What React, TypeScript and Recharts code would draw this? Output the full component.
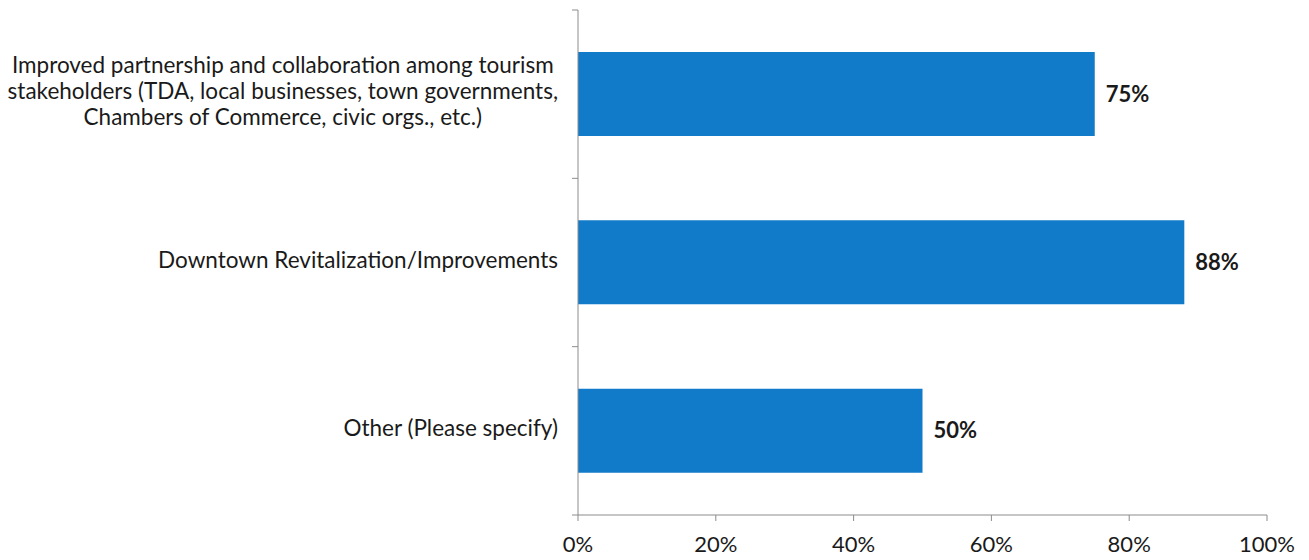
import { Bar, BarChart, LabelList, XAxis, YAxis } from 'recharts';

const categories = [
  'Improved partnership and collaboration among tourism\nstakeholders (TDA, local businesses, town governments,\nChambers of Commerce, civic orgs., etc.)',
  'Downtown Revitalization/Improvements',
  'Other (Please specify)',
];
const shares = [75, 88, 50];
const xTicks = [0, 20, 40, 60, 80, 100];

const data = categories.map((name, i) => ({ name, share: shares[i] }));

const FONT = 'Lato, "Open Sans", sans-serif';
const AXIS_COLOR = '#8c8c8c';
const TEXT_COLOR = '#1a1a1a';
const TICK = 6;

// Category label, plus the small tick marks Excel puts on the band edges
function CategoryTick(props: any) {
  const { x, y, payload, index, height, visibleTicksCount } = props;
  const lines = String(payload.value).split('\n');
  const boxW = 570;
  const lineH = 26;
  const boxH = lines.length * lineH;
  const band = height / visibleTicksCount;
  const isLast = index === visibleTicksCount - 1;
  return (
    <g>
      <line x1={x} x2={x + TICK} y1={y - band / 2} y2={y - band / 2} stroke={AXIS_COLOR} />
      {isLast && <line x1={x} x2={x + TICK} y1={y + band / 2} y2={y + band / 2} stroke={AXIS_COLOR} />}
      <foreignObject x={x - boxW - 14} y={y - boxH / 2 - 3} width={boxW} height={boxH + 10}>
        <div style={{ display: 'flex', justifyContent: 'flex-end', width: '100%' }}>
          <div
            style={{
              textAlign: 'center',
              fontFamily: FONT,
              fontSize: 22.5,
              lineHeight: `${lineH}px`,
              color: TEXT_COLOR,
              whiteSpace: 'nowrap',
            }}
          >
            {lines.map((l) => (
              <div key={l}>{l}</div>
            ))}
          </div>
        </div>
      </foreignObject>
    </g>
  );
}

export default function App() {
  return (
    <div style={{ position: 'absolute', left: 0, top: 0, background: '#fff' }}>
      <BarChart
        width={1309}
        height={560}
        data={data}
        layout="vertical"
        margin={{ top: 10, right: 42, bottom: 0, left: 0 }}
      >
        <XAxis
          type="number"
          domain={[0, 100]}
          ticks={xTicks}
          tickFormatter={(v) => `${v}%`}
          tick={{ fontSize: 22, fill: TEXT_COLOR, fontFamily: FONT }}
          axisLine={{ stroke: AXIS_COLOR }}
          tickLine={{ stroke: AXIS_COLOR }}
          tickSize={TICK}
          tickMargin={15}
          height={45}
          interval={0}
        />
        <YAxis
          type="category"
          dataKey="name"
          width={578}
          axisLine={{ stroke: AXIS_COLOR }}
          tickLine={false}
          tickSize={TICK}
          tickMargin={0}
          tick={<CategoryTick />}
          interval={0}
        />
        <Bar dataKey="share" fill="#127bc9" barSize={84} isAnimationActive={false}>
          <LabelList
            dataKey="share"
            position="right"
            offset={11}
            formatter={(v: any) => `${v}%`}
            style={{ fontSize: 22, fontWeight: 700, fill: TEXT_COLOR, fontFamily: FONT }}
          />
        </Bar>
      </BarChart>
    </div>
  );
}
